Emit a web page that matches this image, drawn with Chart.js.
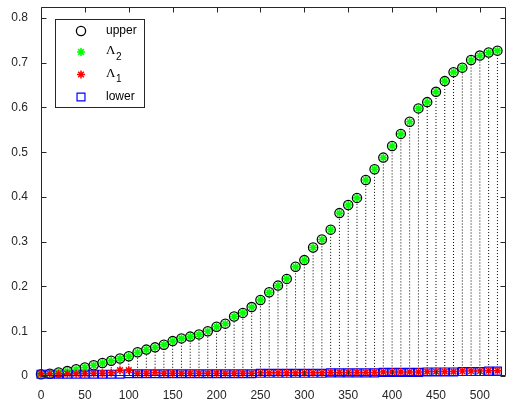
<!DOCTYPE html>
<html>
<head>
<meta charset="utf-8">
<script src="https://cdn.jsdelivr.net/npm/chart.js@4/dist/chart.umd.min.js"></script>
<style>
  html, body { margin: 0; padding: 0; background: #ffffff; }
  #wrap { width: 513px; height: 401px; }
</style>
</head>
<body>
<div id="wrap"><canvas id="c" width="513" height="401"></canvas></div>
<script>
// Sample positions
const xValues = [0,10,20,30,40,50,60,70,80,90,100,110,120,130,140,150,160,170,180,190,
  200,210,220,230,240,250,260,270,280,290,300,310,320,330,340,350,360,370,380,390,
  400,410,420,430,440,450,460,470,480,490,500,510,520];

// Upper bound
const upper = [0.004,0.005,0.008,0.011,0.015,0.019,0.024,0.029,0.034,0.039,
  0.044,0.053,0.059,0.064,0.070,0.078,0.084,0.088,0.093,0.100,
  0.110,0.117,0.133,0.141,0.154,0.170,0.187,0.202,0.217,0.244,
  0.259,0.287,0.305,0.327,0.364,0.382,0.398,0.438,0.462,0.488,
  0.514,0.541,0.568,0.598,0.612,0.635,0.659,0.679,0.689,0.706,
  0.716,0.723,0.727];

// Λ2 eigenvalue
const lambda2 = [0.004,0.005,0.008,0.011,0.015,0.019,0.024,0.029,0.034,0.039,
  0.044,0.053,0.059,0.064,0.070,0.078,0.084,0.088,0.093,0.100,
  0.110,0.117,0.133,0.141,0.154,0.170,0.187,0.202,0.217,0.244,
  0.259,0.287,0.305,0.327,0.364,0.382,0.398,0.438,0.462,0.488,
  0.514,0.541,0.568,0.598,0.612,0.635,0.659,0.679,0.689,0.706,
  0.716,0.723,0.727];

// Λ1 eigenvalue
const lambda1 = [0.005,0.005,0.005,0.005,0.005,0.005,0.006,0.006,0.007,0.013,
  0.013,0.006,0.006,0.008,0.006,0.006,0.006,0.006,0.006,0.006,
  0.006,0.006,0.006,0.006,0.006,0.007,0.007,0.007,0.007,0.007,
  0.007,0.007,0.007,0.008,0.008,0.008,0.008,0.008,0.008,0.009,
  0.009,0.009,0.009,0.009,0.010,0.010,0.010,0.010,0.011,0.011,
  0.011,0.012,0.012];

// Lower bound
const lower = [0.004,0.004,0.004,0.004,0.004,0.004,0.004,0.004,0.004,0.004,
  0.005,0.005,0.005,0.005,0.005,0.005,0.005,0.005,0.005,0.005,
  0.005,0.005,0.005,0.005,0.005,0.006,0.006,0.006,0.006,0.006,
  0.006,0.006,0.006,0.007,0.007,0.007,0.007,0.007,0.007,0.008,
  0.008,0.008,0.008,0.008,0.009,0.009,0.009,0.009,0.010,0.010,
  0.010,0.011,0.011];

const xTicks = [0,50,100,150,200,250,300,350,400,450,500];
const yTicks = [0,0.1,0.2,0.3,0.4,0.5,0.6,0.7,0.8];

const seriesNames = ['upper', 'Λ2', 'Λ1', 'lower'];

const AXIS_COLOR = '#262626';
const TICK_FONT = { family: 'Liberation Sans, Arial, sans-serif', size: 12 };

function pts(ys) { return xValues.map((x, i) => ({ x: x, y: ys[i] })); }

// Dotted stems from the lower bound up to the upper bound
const stemPlugin = {
  id: 'stems',
  beforeDatasetsDraw(chart) {
    const { ctx, scales: { x, y } } = chart;
    ctx.save();
    ctx.strokeStyle = '#000000';
    ctx.lineWidth = 1;
    ctx.setLineDash([1, 2]);
    xValues.forEach((xv, i) => {
      const px = x.getPixelForValue(xv);
      ctx.beginPath();
      ctx.moveTo(px, y.getPixelForValue(lower[i]));
      ctx.lineTo(px, y.getPixelForValue(upper[i]));
      ctx.stroke();
    });
    ctx.restore();
  }
};

function drawMarker(ctx, style, cx, cy, r, color, lw) {
  ctx.save();
  ctx.strokeStyle = color;
  ctx.lineWidth = lw;
  ctx.beginPath();
  if (style === 'circle') {
    ctx.arc(cx, cy, r, 0, Math.PI * 2);
  } else if (style === 'rect') {
    const s = Math.SQRT1_2 * r;
    ctx.rect(cx - s, cy - s, 2 * s, 2 * s);
  } else if (style === 'star') {
    ctx.moveTo(cx - r, cy); ctx.lineTo(cx + r, cy);
    ctx.moveTo(cx, cy - r); ctx.lineTo(cx, cy + r);
    const d = r * Math.SQRT1_2;
    ctx.moveTo(cx - d, cy - d); ctx.lineTo(cx + d, cy + d);
    ctx.moveTo(cx - d, cy + d); ctx.lineTo(cx + d, cy - d);
  }
  ctx.stroke();
  ctx.restore();
}

// Axes box with inward ticks on all four sides, plus the legend
const framePlugin = {
  id: 'frame',
  afterDatasetsDraw(chart) {
    const { ctx, chartArea: a, scales: { x, y } } = chart;
    const L = Math.round(a.left) + 0.5, R = Math.round(a.right) - 0.5;
    const T = Math.round(a.top) + 0.5, B = Math.round(a.bottom) - 0.5;
    const tl = 5;
    ctx.save();
    ctx.strokeStyle = AXIS_COLOR;
    ctx.lineWidth = 1;
    ctx.beginPath();
    ctx.rect(L, T, R - L, B - T);
    xTicks.forEach(v => {
      const px = Math.round(x.getPixelForValue(v)) + 0.5;
      ctx.moveTo(px, B); ctx.lineTo(px, B - tl);
      ctx.moveTo(px, T); ctx.lineTo(px, T + tl);
    });
    yTicks.forEach(v => {
      const py = Math.round(y.getPixelForValue(v)) + 0.5;
      ctx.moveTo(L, py); ctx.lineTo(L + tl, py);
      ctx.moveTo(R, py); ctx.lineTo(R - tl, py);
    });
    ctx.stroke();

    // legend
    const bx = 55.5, by = 19.5, bw = 89, bh = 88;
    ctx.fillStyle = '#ffffff';
    ctx.fillRect(bx, by, bw, bh);
    ctx.strokeStyle = AXIS_COLOR;
    ctx.strokeRect(bx, by, bw, bh);

    const rows = [31, 52, 74.5, 97];
    const mx = 81, tx = 106;
    chart.data.datasets.forEach(ds => {
      const row = rows[ds.legendRow];
      drawMarker(ctx, ds.pointStyle, mx, row, ds.pointRadius, ds.borderColor, ds.borderWidth);
    });
    ctx.fillStyle = '#000000';
    ctx.textBaseline = 'middle';
    ctx.textAlign = 'left';
    seriesNames.forEach((name, i) => {
      const row = rows[i];
      if (name.charAt(0) === 'Λ') {
        ctx.font = '13px "Liberation Serif", "Times New Roman", serif';
        ctx.fillText('Λ', tx, row - 1);
        const w = ctx.measureText('Λ').width;
        ctx.font = '10px "Liberation Sans", Arial, sans-serif';
        ctx.fillText(name.slice(1), tx + w + 0.5, row + 5);
      } else {
        ctx.font = '12px "Liberation Sans", Arial, sans-serif';
        ctx.fillText(name, tx, row);
      }
    });
    ctx.restore();
  }
};

const chart = new Chart(document.getElementById('c'), {
  type: 'scatter',
  data: {
    datasets: [
      { label: seriesNames[2], legendRow: 2, data: pts(lambda1), order: 0, clip: false,
        pointStyle: 'star', pointRadius: 4, borderColor: '#ff0000', backgroundColor: '#ff0000', borderWidth: 1.5 },
      { label: seriesNames[1], legendRow: 1, data: pts(lambda2), order: 1, clip: false,
        pointStyle: 'star', pointRadius: 4, borderColor: '#00ff00', backgroundColor: '#00ff00', borderWidth: 1.6 },
      { label: seriesNames[3], legendRow: 3, data: pts(lower), order: 2, clip: false,
        pointStyle: 'rect', pointRadius: 5.6, borderColor: '#0000ff', backgroundColor: 'rgba(0,0,0,0)', borderWidth: 1.2 },
      { label: seriesNames[0], legendRow: 0, data: pts(upper), order: 3, clip: false,
        pointStyle: 'circle', pointRadius: 4.6, borderColor: '#000000', backgroundColor: 'rgba(0,0,0,0)', borderWidth: 1.3 }
    ]
  },
  options: {
    responsive: false,
    animation: false,
    devicePixelRatio: 1,
    layout: { padding: { top: 4, right: 4, left: 0, bottom: 0 } },
    plugins: { legend: { display: false }, tooltip: { enabled: false } },
    elements: { point: { hoverRadius: 4 } },
    scales: {
      x: {
        type: 'linear', min: 0, max: 530,
        afterBuildTicks: s => { s.ticks = xTicks.map(v => ({ value: v })); },
        afterFit: s => { s.height = 25; s.paddingLeft = 0; s.paddingRight = 0; },
        grid: { display: false }, border: { display: false },
        ticks: { font: TICK_FONT, color: AXIS_COLOR, padding: 4, maxRotation: 0, autoSkip: false,
                 callback: v => String(v) }
      },
      y: {
        type: 'linear', min: 0, max: 0.825,
        afterBuildTicks: s => { s.ticks = yTicks.map(v => ({ value: v })); },
        afterFit: s => { s.width = 41; s.paddingTop = 0; s.paddingBottom = 0; },
        grid: { display: false }, border: { display: false },
        ticks: { font: TICK_FONT, color: AXIS_COLOR, padding: 5, autoSkip: false,
                 callback: v => (v === 0 ? '0' : v.toFixed(1)) }
      }
    }
  },
  plugins: [stemPlugin, framePlugin]
});
</script>
</body>
</html>
